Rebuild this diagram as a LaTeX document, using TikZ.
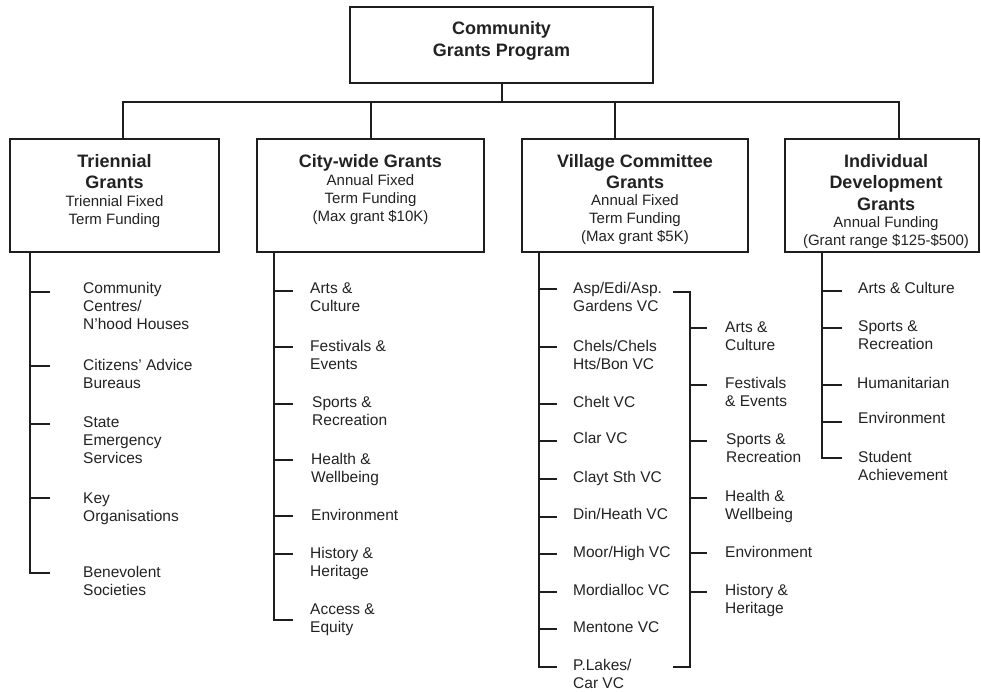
\documentclass[tikz,border=0pt]{standalone}
\usepackage{fontspec}
\setmainfont{Liberation Sans}
\definecolor{linec}{HTML}{1E1E1E}
\definecolor{txtc}{HTML}{222222}
\begin{document}
\begin{tikzpicture}[x=1pt,y=-1pt,
  ln/.style={draw=linec, line width=2pt},
  gbox/.style={draw=linec, line width=2.2pt, inner sep=0pt, fill=white},
  ttl/.style={font=\bfseries\fontsize{18}{21.5}\selectfont, align=center, inner sep=0pt, anchor=north, text=txtc},
  toptl/.style={font=\bfseries\fontsize{18}{22}\selectfont, align=center, inner sep=0pt, anchor=north, text=txtc},
  sub/.style={font=\fontsize{15}{18}\selectfont, align=center, inner sep=0pt, anchor=north, text=txtc},
  item/.style={font=\fontsize{15.5}{18}\selectfont, align=left, inner sep=0pt, anchor=north west, text=txtc}]
\useasboundingbox (0,0) rectangle (981,691);

% ---------- boxes ----------
\node[gbox, minimum width=303pt, minimum height=76pt] (top) at (501.5,45) {};
\node[toptl] (top-t) at (501.5,19.1) {\strut Community\\Grants Program};

\node[gbox, minimum width=209pt, minimum height=113pt] (tri) at (114.5,195.5) {};
\node[gbox, minimum width=227pt, minimum height=113pt] (city) at (370.5,195.5) {};
\node[gbox, minimum width=226pt, minimum height=113pt] (vil) at (635,195.5) {};
\node[gbox, minimum width=194pt, minimum height=113pt] (ind) at (882,195.5) {};

\node[ttl] (tri-t) at (114.5,151.8) {\strut Triennial\\Grants};
\node[sub] (tri-s) at (114.5,193.6) {\strut Triennial Fixed\\Term Funding};
\node[ttl] (city-t) at (370.5,151.8) {\strut City-wide Grants};
\node[sub] (city-s) at (370.5,172.6) {\strut Annual Fixed\\Term Funding\\(Max grant \$10K)};
\node[ttl] (vil-t) at (635,151.8) {\strut Village Committee\\Grants};
\node[sub] (vil-s) at (635,192.6) {\strut Annual Fixed\\Term Funding\\(Max grant \$5K)};
\node[ttl] (ind-t) at (886,151.8) {\strut Individual\\Development\\Grants};
\node[sub] (ind-s) at (886,214.6) {\strut Annual Funding\\(Grant range \$125-\$500)};

% ---------- top bus ----------
\coordinate (b1) at (123,102);
\coordinate (b2) at (370.5,102);
\coordinate (b3) at (615,102);
\coordinate (b4) at (899,102);
\draw[ln] (top.south) -- (top.south |- b1);
\draw[ln] (tri.north -| b1) -- (b1) -- (b4) -- (ind.north -| b4);
\draw[ln] (city.north) -- (b2);
\draw[ln] (vil.north -| b3) -- (b3);

% ---------- Triennial list ----------
\coordinate (triS) at ([xshift=21pt]tri.south west);
\node[item] (t1) at (83,280.4) {\strut Community\\Centres/\\N'hood Houses};
\node[item] (t2) at (83,357.4) {\strut Citizens' Advice\\Bureaus};
\node[item] (t3) at (83,414.4) {\strut State\\Emergency\\Services};
\node[item] (t4) at (83,490.4) {\strut Key\\Organisations};
\node[item] (t5) at (83,564.4) {\strut Benevolent\\Societies};
\coordinate (t1e) at (50,292);
\coordinate (t2e) at (50,366);
\coordinate (t3e) at (50,424);
\coordinate (t4e) at (50,498);
\coordinate (t5e) at (50,573);
\draw[ln] (triS) |- (t5e);
\draw[ln] (triS |- t1e) -- (t1e);
\draw[ln] (triS |- t2e) -- (t2e);
\draw[ln] (triS |- t3e) -- (t3e);
\draw[ln] (triS |- t4e) -- (t4e);

% ---------- City-wide list ----------
\coordinate (cityS) at ([xshift=18pt]city.south west);
\node[item] (c1) at (310,280.4) {\strut Arts \&\\Culture};
\node[item] (c2) at (310,338.4) {\strut Festivals \&\\Events};
\node[item] (c3) at (312,394.4) {\strut Sports \&\\Recreation};
\node[item] (c4) at (311,451.4) {\strut Health \&\\Wellbeing};
\node[item] (c5) at (311,507.4) {\strut Environment};
\node[item] (c6) at (310,545.4) {\strut History \&\\Heritage};
\node[item] (c7) at (310,601.4) {\strut Access \&\\Equity};
\coordinate (c1e) at (293,291);
\coordinate (c2e) at (293,347);
\coordinate (c3e) at (293,404);
\coordinate (c4e) at (293,460);
\coordinate (c5e) at (293,516);
\coordinate (c6e) at (293,554);
\coordinate (c7e) at (293,620);
\draw[ln] (cityS) |- (c7e);
\draw[ln] (cityS |- c1e) -- (c1e);
\draw[ln] (cityS |- c2e) -- (c2e);
\draw[ln] (cityS |- c3e) -- (c3e);
\draw[ln] (cityS |- c4e) -- (c4e);
\draw[ln] (cityS |- c5e) -- (c5e);
\draw[ln] (cityS |- c6e) -- (c6e);

% ---------- Village Committee list ----------
\coordinate (vilS) at ([xshift=18pt]vil.south west);
\node[item] (v1) at (573,280.4) {\strut Asp/Edi/Asp.\\Gardens VC};
\node[item] (v2) at (573,338.4) {\strut Chels/Chels\\Hts/Bon VC};
\node[item] (v3) at (573,394.4) {\strut Chelt VC};
\node[item] (v4) at (573,430.4) {\strut Clar VC};
\node[item] (v5) at (573,469.4) {\strut Clayt Sth VC};
\node[item] (v6) at (573,506.4) {\strut Din/Heath VC};
\node[item] (v7) at (573,544.4) {\strut Moor/High VC};
\node[item] (v8) at (573,582.4) {\strut Mordialloc VC};
\node[item] (v9) at (573,619.4) {\strut Mentone VC};
\node[item] (v10) at (573,657.4) {\strut P.Lakes/\\Car VC};
\coordinate (v1e) at (557,289);
\coordinate (v2e) at (557,347);
\coordinate (v3e) at (557,404);
\coordinate (v4e) at (557,441);
\coordinate (v5e) at (557,479);
\coordinate (v6e) at (557,517);
\coordinate (v7e) at (557,554);
\coordinate (v8e) at (557,592);
\coordinate (v9e) at (557,629);
\coordinate (v10e) at (557,667);
\draw[ln] (vilS) |- (v10e);
\draw[ln] (vilS |- v1e) -- (v1e);
\draw[ln] (vilS |- v2e) -- (v2e);
\draw[ln] (vilS |- v3e) -- (v3e);
\draw[ln] (vilS |- v4e) -- (v4e);
\draw[ln] (vilS |- v5e) -- (v5e);
\draw[ln] (vilS |- v6e) -- (v6e);
\draw[ln] (vilS |- v7e) -- (v7e);
\draw[ln] (vilS |- v8e) -- (v8e);
\draw[ln] (vilS |- v9e) -- (v9e);

% bracket and categories
\coordinate (brT) at (673,292);
\coordinate (brB) at (673,667);
\coordinate (brX) at (690,292);
\draw[ln] (brT) -- (brX) |- (brB);
\node[item] (w1) at (725,319.4) {\strut Arts \&\\Culture};
\node[item] (w2) at (725,375.4) {\strut Festivals\\\& Events};
\node[item] (w3) at (726,431.4) {\strut Sports \&\\Recreation};
\node[item] (w4) at (725,488.4) {\strut Health \&\\Wellbeing};
\node[item] (w5) at (725,544.4) {\strut Environment};
\node[item] (w6) at (725,582.4) {\strut History \&\\Heritage};
\coordinate (w1e) at (707,328);
\coordinate (w2e) at (707,385);
\coordinate (w3e) at (707,441);
\coordinate (w4e) at (707,498);
\coordinate (w5e) at (707,553);
\coordinate (w6e) at (707,592);
\draw[ln] (brX |- w1e) -- (w1e);
\draw[ln] (brX |- w2e) -- (w2e);
\draw[ln] (brX |- w3e) -- (w3e);
\draw[ln] (brX |- w4e) -- (w4e);
\draw[ln] (brX |- w5e) -- (w5e);
\draw[ln] (brX |- w6e) -- (w6e);

% ---------- Individual list ----------
\coordinate (indS) at ([xshift=38pt]ind.south west);
\node[item] (i1) at (858,280.4) {\strut Arts \& Culture};
\node[item] (i2) at (858,318.4) {\strut Sports \&\\Recreation};
\node[item] (i3) at (857,375.4) {\strut Humanitarian};
\node[item] (i4) at (858,410.4) {\strut Environment};
\node[item] (i5) at (858,449.4) {\strut Student\\Achievement};
\coordinate (i1e) at (842,291);
\coordinate (i2e) at (842,328);
\coordinate (i3e) at (842,385);
\coordinate (i4e) at (842,422);
\coordinate (i5e) at (842,458);
\draw[ln] (indS) |- (i5e);
\draw[ln] (indS |- i1e) -- (i1e);
\draw[ln] (indS |- i2e) -- (i2e);
\draw[ln] (indS |- i3e) -- (i3e);
\draw[ln] (indS |- i4e) -- (i4e);
\end{tikzpicture}
\end{document}
